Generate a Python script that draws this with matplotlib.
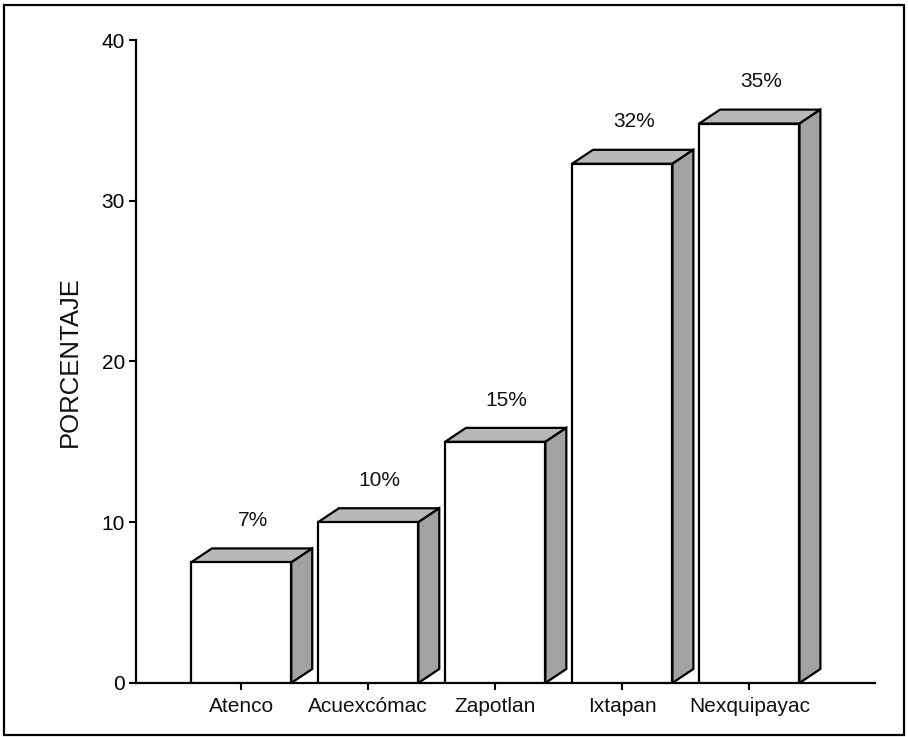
import matplotlib
matplotlib.use("Agg")
from matplotlib import pyplot as plt
from matplotlib.patches import Polygon, Rectangle

plt.rcParams['font.family'] = ['Liberation Sans', 'DejaVu Sans']

# datos
categorias = ["Atenco", "Acuexcómac", "Zapotlan", "Ixtapan", "Nexquipayac"]
valores = [7.5, 10, 15, 32.3, 34.8]
etiquetas = ["7%", "10%", "15%", "32%", "35%"]

fig = plt.figure(figsize=(9.08, 7.37), dpi=100)
ax = fig.add_axes([0.1498, 0.0733, 0.8139, 0.8724])

ancho = 0.79
dx, dy = 0.165, 0.87   # profundidad 3D

x = range(len(categorias))
ax.bar(x, valores, width=ancho, color="white", edgecolor="black", linewidth=1.6, zorder=3)

for i, v in zip(x, valores):
    x0, x1 = i - ancho / 2, i + ancho / 2
    # cara superior
    ax.add_patch(Polygon([(x0, v), (x1, v), (x1 + dx, v + dy), (x0 + dx, v + dy)],
                         closed=True, facecolor="#b8b8b8", edgecolor="black", lw=1.6, zorder=2))
    # cara lateral
    ax.add_patch(Polygon([(x1, 0), (x1 + dx, dy), (x1 + dx, v + dy), (x1, v)],
                         closed=True, facecolor="#a2a2a2", edgecolor="black", lw=1.6, zorder=2))

for i, v, t in zip(x, valores, etiquetas):
    ax.text(i + 0.09, v + 2.6, t, ha="center", va="center", fontsize=15, color="#111111")

ax.set_xlim(-0.827, 4.99)
ax.set_ylim(0, 40)
ax.set_xticks(list(x))
ax.set_xticklabels(categorias, fontsize=15, color="#111111")
ax.set_yticks([0, 10, 20, 30, 40])
ax.tick_params(axis="y", labelsize=15, length=5, width=1.5, pad=3)
ax.tick_params(axis="x", length=5, width=1.5, pad=5)
ax.set_ylabel("PORCENTAJE", fontsize=18.5, labelpad=14, color="#111111")

for s in ["top", "right"]:
    ax.spines[s].set_visible(False)
for s in ["left", "bottom"]:
    ax.spines[s].set_linewidth(1.6)

# marco
fig.add_artist(Rectangle((0.004, 0.003), 0.992, 0.99, transform=fig.transFigure,
                         fill=False, edgecolor="black", linewidth=1.6))

fig.savefig("out.png", dpi=100)
